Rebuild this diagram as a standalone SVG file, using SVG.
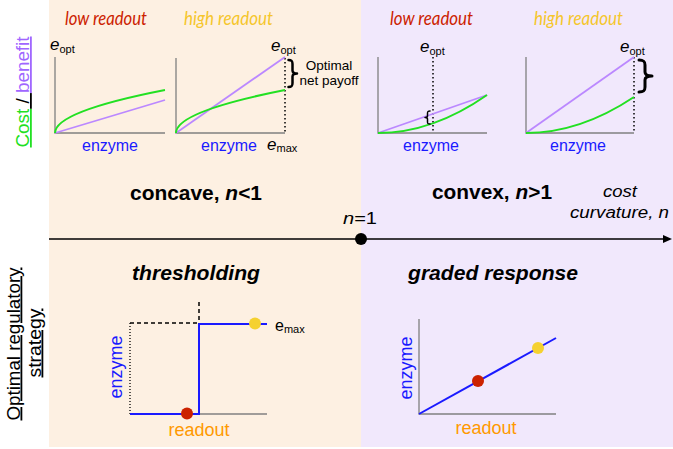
<svg xmlns="http://www.w3.org/2000/svg" width="673" height="449" viewBox="0 0 673 449">
<defs>
<style>
.ax{fill:none;stroke:#808080;stroke-width:1.3}
.gr{fill:none;stroke:#22e022;stroke-width:2}
.pu{fill:none;stroke:#bb88ff;stroke-width:1.8}
.dot{fill:none;stroke:#000;stroke-width:1.5;stroke-dasharray:1.5 2.5}
.br{fill:none;stroke:#000;stroke-width:2.5;stroke-linejoin:round;stroke-linecap:round}
.head{font-family:Lato,"Liberation Sans",sans-serif;font-style:italic;font-size:20px}
.lo{fill:#cc2200}
.hi{fill:#f5c62c}
.sans{font-family:"Liberation Sans",Arial,sans-serif}
.enz{font-family:"Liberation Sans",Arial,sans-serif;font-size:16px;fill:#1a1aff;text-anchor:middle}
.ev{font-family:"Liberation Sans",Arial,sans-serif;font-size:17px;font-style:italic;fill:#000}
.sub{font-size:11px;font-style:normal}
.big{font-family:"Liberation Sans",Arial,sans-serif;font-weight:bold;font-size:19.5px;fill:#000}
.ro{font-family:"Liberation Sans",Arial,sans-serif;font-size:18px;fill:#ff9900;text-anchor:middle}
.ez2{font-family:"Liberation Sans",Arial,sans-serif;font-size:18px;fill:#1a1aff;text-anchor:middle}
</style>
</defs>

<g id="background">
<rect x="49" y="0" width="312" height="447" fill="#fdf0e2"/>
<rect x="361" y="0" width="312" height="447" fill="#f1e8fc"/>
</g>

<g id="ylabel-cost-benefit">
<text class="sans" font-size="18" text-anchor="middle" transform="translate(29,92) rotate(-90)" textLength="111" lengthAdjust="spacingAndGlyphs"><tspan fill="#22e022" text-decoration="underline">Cost</tspan><tspan fill="#000" text-decoration="underline"> / </tspan><tspan fill="#a066ff" text-decoration="underline">benefit</tspan></text>
</g>

<g id="ylabel-strategy">
<text class="sans" font-size="18" fill="#000" text-anchor="middle" text-decoration="underline" transform="translate(19.5,344) rotate(-90)" textLength="153" lengthAdjust="spacingAndGlyphs">Optimal regulatory</text>
<text class="sans" font-size="18" fill="#000" text-anchor="middle" text-decoration="underline" transform="translate(40.5,343) rotate(-90)" textLength="69" lengthAdjust="spacingAndGlyphs">strategy</text>
</g>

<g id="headings">
<text class="head lo" x="65" y="25" textLength="82" lengthAdjust="spacingAndGlyphs">low readout</text>
<text class="head hi" x="184" y="25" textLength="89" lengthAdjust="spacingAndGlyphs">high readout</text>
<text class="head lo" x="390" y="25" textLength="83" lengthAdjust="spacingAndGlyphs">low readout</text>
<text class="head hi" x="534" y="25" textLength="89" lengthAdjust="spacingAndGlyphs">high readout</text>
</g>

<g id="plot-concave-low">
<path class="ax" d="M55,57 V133 H165"/>
<path class="pu" d="M55,133 L165,100"/>
<path class="gr" d="M55,133 Q55,111.5 165,90"/>
<text class="ev" x="50" y="50">e<tspan class="sub" dy="3">opt</tspan></text>
<text class="enz" x="110" y="151">enzyme</text>
</g>

<g id="plot-concave-high">
<path class="ax" d="M176,58 V133 H285"/>
<path class="dot" d="M285,58 V133"/>
<path class="pu" d="M176,133 L285,57"/>
<path class="gr" d="M176,133 Q176,111.5 285,90"/>
<path class="br" d="M288.5,60 C292,60 292.5,61 292.5,64 L292.5,70.5 C292.5,72.5 294,73.5 297,73.5 C294,73.5 292.5,74.5 292.5,76.5 L292.5,83 C292.5,86 292,87 288.5,87"/>
<text class="ev" x="271" y="51">e<tspan class="sub" dy="3">opt</tspan></text>
<text class="ev" x="267" y="150">e<tspan class="sub" dy="2">max</tspan></text>
<text class="sans" font-size="13.5" fill="#000" text-anchor="middle"><tspan x="329" y="70">Optimal</tspan><tspan x="329" y="84.5">net payoff</tspan></text>
<text class="enz" x="229" y="151">enzyme</text>
</g>

<g id="plot-convex-low">
<path class="ax" d="M378,57 V133 H487"/>
<path class="dot" d="M433,57 V133"/>
<path class="pu" d="M378,133 L487,95"/>
<path class="gr" d="M378,133 Q432.5,133 487,95"/>
<path class="br" style="stroke-width:1.5" d="M430,111 C427.5,111 427.5,112 427.5,113.5 L427.5,116 C427.5,117 427,117.5 425,117.5 C427,117.5 427.5,118 427.5,119 L427.5,122 C427.5,123.5 427.5,124 430,124"/>
<text class="ev" x="420" y="52">e<tspan class="sub" dy="3">opt</tspan></text>
<text class="enz" x="431" y="151">enzyme</text>
</g>

<g id="plot-convex-high">
<path class="ax" d="M526,57 V133 H634"/>
<path class="dot" d="M634,57 V133"/>
<path class="pu" d="M526,133 L634,57"/>
<path class="gr" d="M526,133 Q580,133 634,97"/>
<path class="br" style="stroke-width:3" d="M639,60 C644,60 645,61.5 645,65 L645,72 C645,74.5 647,76 652,76 C647,76 645,77.5 645,80 L645,87 C645,90.5 644,92 639,92"/>
<text class="ev" x="620" y="52">e<tspan class="sub" dy="3">opt</tspan></text>
<text class="enz" x="578" y="151">enzyme</text>
</g>

<g id="regime-labels">
<text class="big" x="130" y="200" textLength="132" lengthAdjust="spacingAndGlyphs">concave, <tspan font-style="italic">n</tspan>&lt;1</text>
<text class="big" x="432" y="199" textLength="120" lengthAdjust="spacingAndGlyphs">convex, <tspan font-style="italic">n</tspan>&gt;1</text>
<text class="sans" font-size="17" fill="#000" x="343" y="224" textLength="34" lengthAdjust="spacingAndGlyphs"><tspan font-style="italic">n</tspan>=1</text>
<text class="sans" font-size="16" font-style="italic" fill="#000" x="603" y="197" textLength="34" lengthAdjust="spacingAndGlyphs">cost</text>
<text class="sans" font-size="16" font-style="italic" fill="#000" x="570" y="218" textLength="99" lengthAdjust="spacingAndGlyphs">curvature, n</text>
</g>

<g id="connectors">
<line x1="49" y1="239" x2="664" y2="239" stroke="#000" stroke-width="1.6"/>
<polygon points="672,239 663,235 663,243" fill="#000"/>
<circle cx="361" cy="239" r="6" fill="#000"/>
</g>

<g id="thresholding">
<text class="big" font-style="italic" x="132" y="280" textLength="128" lengthAdjust="spacingAndGlyphs">thresholding</text>
<path class="ax" d="M199,414 H267"/>
<path d="M130,323 V414" fill="none" stroke="#000" stroke-width="1.3" stroke-dasharray="1 2"/>
<path d="M130,323 H199 M199,302 V323" fill="none" stroke="#000" stroke-width="1.5" stroke-dasharray="4 3"/>
<path d="M130,414 H199 V324 H267" fill="none" stroke="#1a1aff" stroke-width="2"/>
<circle cx="187" cy="413.5" r="6" fill="#cc2200"/>
<circle cx="255" cy="323.5" r="6" fill="#f5d130"/>
<text class="sans" font-size="16" fill="#000" x="275" y="331">e<tspan font-size="11" dy="2">max</tspan></text>
<text class="ez2" transform="translate(122,367) rotate(-90)">enzyme</text>
<text class="ro" x="199" y="436">readout</text>
</g>

<g id="graded-response">
<text class="big" font-style="italic" x="408" y="280" textLength="170" lengthAdjust="spacingAndGlyphs">graded response</text>
<path class="ax" d="M419,319 V414 H556"/>
<path d="M419,414 L556,338" fill="none" stroke="#1a1aff" stroke-width="2"/>
<circle cx="478" cy="381" r="6" fill="#cc2200"/>
<circle cx="538" cy="348" r="6" fill="#f5d130"/>
<text class="ez2" transform="translate(412,368) rotate(-90)">enzyme</text>
<text class="ro" x="486" y="434">readout</text>
</g>
</svg>
